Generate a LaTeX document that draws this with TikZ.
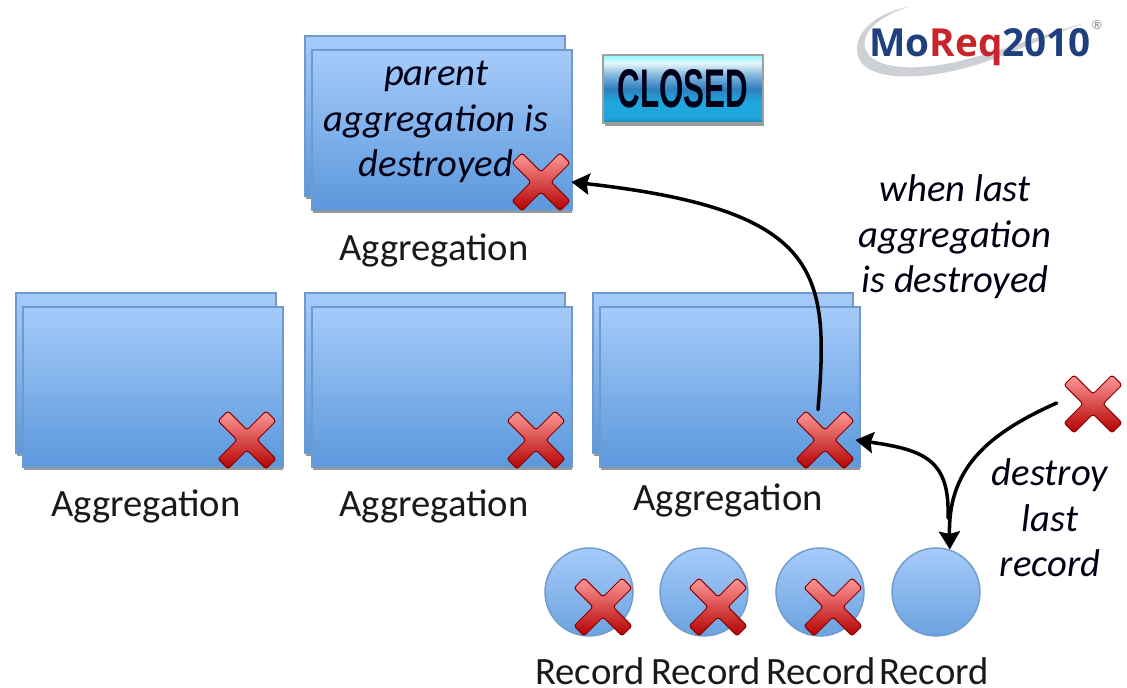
\documentclass[tikz,border=0pt]{standalone}
\usepackage{xcolor}
\usepackage{fontspec}
\setmainfont{Carlito}
\newfontfamily\logofont{Open Sans}
\newfontfamily\badgefont{Liberation Sans}
\usetikzlibrary{arrows.meta,shadows}

\definecolor{boxtop}{HTML}{A6CBFA}
\definecolor{boxbottom}{HTML}{5B98DC}
\definecolor{boxedge}{HTML}{6F9BCB}
\definecolor{logoblue}{HTML}{1F3F7F}
\definecolor{logored}{HTML}{C8242C}
\definecolor{swoosh}{HTML}{CDD0D4}
\definecolor{badgelow}{HTML}{1FA6DC}
\definecolor{badgemid}{HTML}{2F7FBE}
\definecolor{badgeband}{HTML}{7FB4DC}
\definecolor{badgetop}{HTML}{E4F6FA}

\pgfdeclareverticalshading{closedbadge}{100bp}{
  color(0bp)=(badgelow); color(25bp)=(badgelow!80!black); color(29bp)=(badgelow); color(41bp)=(badgelow);
  color(50bp)=(badgemid); color(60bp)=(badgeband); color(69bp)=(badgetop);
  color(75bp)=(badgetop!60!cyan); color(100bp)=(badgetop)}

\tikzset{
  folder/.style={rectangle,inner sep=0pt,minimum width=5.2cm,minimum height=3.2cm,fill=boxbottom,
    drop shadow={fill=black,opacity=0.4,shadow xshift=0.01cm,shadow yshift=-0.07cm},
    postaction={draw=boxedge,line width=0.8pt,top color=boxtop,bottom color=boxbottom}},
  record/.style={circle,inner sep=0pt,minimum size=1.76cm,draw=boxedge,line width=0.8pt,top color=boxtop,bottom color=boxbottom!90!white},
  cross/.style={rectangle,inner sep=0pt,minimum size=1.2cm,path picture={
    \begin{scope}[shift={(path picture bounding box.center)}]
      \shade[top color=red!40!white,middle color=red,bottom color=red!70!black,draw=red!55!black,line width=0.6pt,rounded corners=1.5pt]
        (-29,-19) -- (-19,-29) -- (0,-10) -- (19,-29) -- (29,-19) -- (10,0) -- (29,19) -- (19,29) -- (0,10) -- (-19,29) -- (-29,19) -- (-10,0) -- cycle;
    \end{scope}}},
  caption/.style={inner sep=0pt,font=\fontsize{22}{22}\selectfont,text=black!90},
  remark/.style={inner sep=0pt,align=center,font=\fontsize{22}{26}\selectfont\itshape,text=black!92!blue},
  flow/.style={-{Stealth[length=0.36cm,width=0.42cm,inset=0.05cm]},line width=2pt,line cap=round}
}

\begin{document}
\begin{tikzpicture}[x=0.02cm, y=-0.02cm]

\useasboundingbox (0,0) rectangle (1127,688);

% logo
\fill[swoosh] (908,7) .. controls (872,14) and (852,36) .. (858,56) .. controls (864,80) and (920,84) .. (985,62) .. controls (1020,50) and (1050,35) .. (1085,23) .. controls (1050,32) and (1010,48) .. (975,57) .. controls (925,72) and (872,72) .. (865,48) .. controls (861,32) and (880,16) .. (908,7) -- cycle;
\node (logo) at (980,47) [inner sep=0pt,font=\logofont\bfseries\fontsize{22}{22}\selectfont] {\textcolor{logoblue}{Mo}\textcolor{logored}{Req}\textcolor{logoblue}{2010}};
\node (logomark) at (1097,25) [inner sep=0pt,text=gray,font=\logofont\fontsize{7}{7}\selectfont] {®};

% closed badge
\node (closed) at (683,89) [rectangle,inner sep=0pt,minimum width=3.2cm,minimum height=1.36cm,fill=badgelow,
  drop shadow={fill=black,opacity=0.4,shadow xshift=0.03cm,shadow yshift=-0.06cm},
  postaction={shading=closedbadge,draw=gray!75,line width=1pt,rounded corners=1pt},text=black!90!blue,
  font=\badgefont\bfseries] {\scalebox{1.15}[2.0]{\fontsize{15.5}{16}\selectfont CLOSED}};

% parent aggregation
\node (parentback) at (435,116) [folder] {};
\node (parent) at (442,130) [folder] {};
\node (parenttext) at (436,122) [remark] {parent\\aggregation is\\destroyed};
\node (parentcross) at (541,182) [cross] {};
\node (parentlabel) at (434,250) [caption] {Aggregation};

% aggregations
\node (aggaback) at (146,373) [folder] {};
\node (agga) at (153,387) [folder] {};
\node (aggacross) at (247,440) [cross] {};
\node (aggalabel) at (146,506) [caption] {Aggregation};

\node (aggbback) at (435,373) [folder] {};
\node (aggb) at (442,387) [folder] {};
\node (aggbcross) at (536,440) [cross] {};
\node (aggblabel) at (434,506) [caption] {Aggregation};

\node (aggcback) at (723,373) [folder] {};
\node (aggc) at (730,387) [folder] {};
\node (aggccross) at (825,440) [cross] {};
\node (aggclabel) at (728,500) [caption] {Aggregation};

% records
\node (reca) at (589,592) [record] {};
\node (recb) at (704,592) [record] {};
\node (recc) at (820,592) [record] {};
\node (recd) at (936,592) [record] {};
\node (recacross) at (603,607) [cross] {};
\node (recbcross) at (718,607) [cross] {};
\node (recccross) at (833,607) [cross] {};
\node (recalabel) at (590,671) [caption] {Record};
\node (recblabel) at (706,671) [caption] {Record};
\node (recclabel) at (821,671) [caption] {Record};
\node (recdlabel) at (934,671) [caption] {Record};

% destroy cross and remarks
\node (lastcross) at (1093,404) [cross] {};
\node (whentext) at (955,237) [remark] {when last\\aggregation\\is destroyed};
\node (destroytext) at (1050,518) [remark] {destroy\\last\\record};

% arrows
\coordinate (split) at (948,518);
\draw[flow] (aggccross.north) ++(-7,0) coordinate (riseup) .. controls (830,270) and (820,210) .. (parentcross.east);
\draw[flow] (split) .. controls (950,460) and (925,450) .. (aggccross.east);
\draw[flow] (lastcross.west) ++(-6,-1) coordinate (lastfrom) .. controls (985,435) and (948,470) .. (recd.72);

\end{tikzpicture}
\end{document}
